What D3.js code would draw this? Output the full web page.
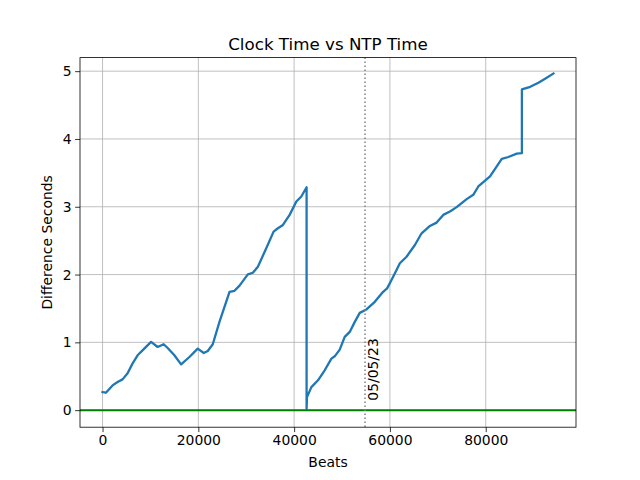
<!DOCTYPE html>
<html>
<head>
<meta charset="utf-8">
<script src="https://cdn.jsdelivr.net/npm/d3@7"></script>
<style>
  html, body { margin: 0; padding: 0; background: #fff; }
  text { font-family: "DejaVu Sans", sans-serif; }
</style>
</head>
<body>
<script>
// Data (beats, difference seconds)
const beats = [0, 700, 2090, 3140, 4180, 5230, 6280, 7320, 8720, 10130, 11510, 12760, 13600, 15000, 16400, 18140, 19870, 21130, 21970, 23010, 24410, 26510, 27550, 28600, 30330, 31380, 32430, 34180, 35710, 36610, 37660, 39060, 40460, 41500, 42600, 42600, 42680, 43600, 44980, 46380, 47780, 48470, 49520, 50560, 51610, 52660, 53700, 55100, 56840, 58580, 59410, 60330, 61380, 62070, 63470, 65210, 66610, 68350, 69750, 71130, 72530, 73930, 76020, 77400, 78450, 79500, 80900, 83350, 84730, 86480, 87550, 87550, 89290, 91000, 92400, 94140];
const diffSeconds = [0.266, 0.257, 0.365, 0.414, 0.454, 0.543, 0.69, 0.809, 0.908, 1.006, 0.932, 0.972, 0.917, 0.809, 0.676, 0.784, 0.908, 0.843, 0.873, 0.972, 1.302, 1.746, 1.76, 1.837, 2.003, 2.027, 2.115, 2.388, 2.633, 2.683, 2.732, 2.88, 3.077, 3.151, 3.287, 0.02, 0.192, 0.34, 0.44, 0.588, 0.76, 0.794, 0.893, 1.08, 1.154, 1.302, 1.435, 1.485, 1.598, 1.746, 1.796, 1.919, 2.067, 2.166, 2.263, 2.436, 2.609, 2.717, 2.766, 2.88, 2.929, 2.994, 3.112, 3.176, 3.299, 3.364, 3.447, 3.706, 3.734, 3.783, 3.79, 4.73, 4.769, 4.828, 4.888, 4.966];
const xTicks = [0, 20000, 40000, 60000, 80000];
const yTicks = [0, 1, 2, 3, 4, 5];
const markerBeat = 54800;
const markerLabel = "05/05/23";
const markerLabelY = 0.14;
const refLevel = 0;

const W = 640, H = 480;
const L = 80, R = 576, T = 57.6, B = 427.2;

const svg = d3.select("body").append("svg").attr("width", W).attr("height", H);
svg.append("rect").attr("width", W).attr("height", H).attr("fill", "#fff");

const x = d3.scaleLinear().domain([-4707, 98847]).range([L, R]);
const y = d3.scaleLinear().domain([-0.2515, 5.2]).range([B, T]);

// grid
const g = svg.append("g");
g.selectAll(".vg").data(xTicks).join("line")
  .attr("x1", d => x(d)).attr("x2", d => x(d)).attr("y1", T).attr("y2", B)
  .attr("stroke", "#b0b0b0").attr("stroke-width", 0.8);
g.selectAll(".hg").data(yTicks).join("line")
  .attr("x1", L).attr("x2", R).attr("y1", d => y(d)).attr("y2", d => y(d))
  .attr("stroke", "#b0b0b0").attr("stroke-width", 0.8);

// clip
svg.append("clipPath").attr("id", "clip").append("rect")
  .attr("x", L).attr("y", T).attr("width", R - L).attr("height", B - T);
const plot = svg.append("g").attr("clip-path", "url(#clip)");

// data line
const pts = beats.map((b, i) => [b, diffSeconds[i]]);
plot.append("path").datum(pts)
  .attr("d", d3.line().x(d => x(d[0])).y(d => y(d[1])))
  .attr("fill", "none").attr("stroke", "#1f77b4").attr("stroke-width", 2.3)
  .attr("stroke-linejoin", "round").attr("stroke-linecap", "square");

// horizontal reference line
plot.append("line").attr("x1", L).attr("x2", R)
  .attr("y1", y(refLevel)).attr("y2", y(refLevel))
  .attr("stroke", "#008000").attr("stroke-width", 2);

// vertical dotted marker
plot.append("line").attr("x1", x(markerBeat)).attr("x2", x(markerBeat))
  .attr("y1", T).attr("y2", B)
  .attr("stroke", "#808080").attr("stroke-width", 1.5).attr("stroke-dasharray", "1.5,2.5");

svg.append("text")
  .attr("transform", `translate(${x(markerBeat) + 13},${y(markerLabelY)}) rotate(-90)`)
  .attr("font-size", 13.9).attr("fill", "#000")
  .text(markerLabel);

// axes
const xAxis = d3.axisBottom(x).tickValues(xTicks).tickFormat(d3.format("d")).tickSizeInner(4.9).tickSizeOuter(0).tickPadding(3.5);
const yAxis = d3.axisLeft(y).tickValues(yTicks).tickFormat(d3.format("d")).tickSizeInner(4.9).tickSizeOuter(0).tickPadding(3.5);
const gx = svg.append("g").attr("transform", `translate(0,${B})`).call(xAxis);
const gy = svg.append("g").attr("transform", `translate(${L},0)`).call(yAxis);
[gx, gy].forEach(a => {
  a.select(".domain").remove();
  a.selectAll("line").attr("stroke", "#000").attr("stroke-width", 0.8);
  a.selectAll("text").attr("font-size", 13.9).attr("fill", "#000").attr("font-family", "DejaVu Sans");
});

// frame
svg.append("rect").attr("x", L).attr("y", T).attr("width", R - L).attr("height", B - T)
  .attr("fill", "none").attr("stroke", "#000").attr("stroke-width", 0.8);

// labels
svg.append("text").attr("x", (L + R) / 2).attr("y", 49.5).attr("text-anchor", "middle")
  .attr("font-size", 16.7).text("Clock Time vs NTP Time");
svg.append("text").attr("x", (L + R) / 2).attr("y", 467).attr("text-anchor", "middle")
  .attr("font-size", 13.9).text("Beats");
svg.append("text").attr("transform", `translate(52,${(T + B) / 2}) rotate(-90)`)
  .attr("text-anchor", "middle").attr("font-size", 13.9).text("Difference Seconds");
</script>
</body>
</html>
